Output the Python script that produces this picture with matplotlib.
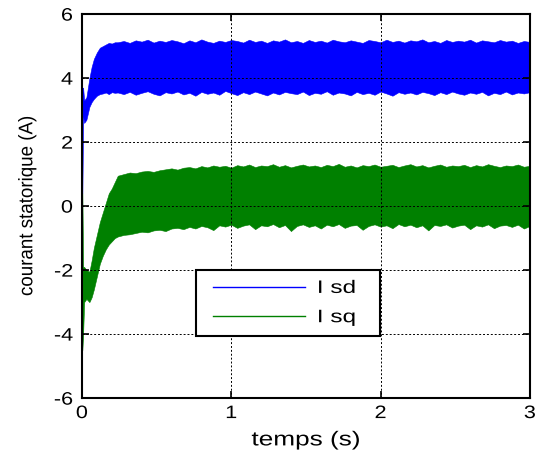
import numpy as np
import matplotlib
matplotlib.use('Agg')
import matplotlib.pyplot as plt
from matplotlib.patheffects import AbstractPathEffect
from matplotlib.transforms import Affine2D
from matplotlib.legend_handler import HandlerLine2D

plt.rcParams['font.family'] = ['Liberation Sans', 'DejaVu Sans']
plt.rcParams['axes.unicode_minus'] = False

# start-up transient (time in s), envelope of the noisy band
t_start = [0, 0.003, 0.008, 0.015, 0.03, 0.05, 0.065, 0.08, 0.1, 0.12, 0.14, 0.16, 0.18, 0.2, 0.22]
isd_hi_start = [0.4, 3.7, 3.7, 3.3, 3.4, 4.0, 4.35, 4.6, 4.8, 4.95, 5.0, 5.05, 5.1, 5.08, 5.12]
isd_lo_start = [0.4, 0.4, 2.8, 2.6, 2.7, 3.1, 3.25, 3.35, 3.45, 3.5, 3.52, 3.55, 3.5, 3.56, 3.54]
isq_hi_start = [0.4, 0.4, -1.9, -1.9, -2.0, -2.05, -1.7, -1.3, -0.9, -0.5, -0.2, 0.1, 0.4, 0.55, 0.75]
isq_lo_start = [0.4, -4.5, -4.0, -3.0, -2.9, -3.0, -2.85, -2.6, -2.2, -1.8, -1.55, -1.35, -1.2, -1.1, -1.0]

# steady part, one reading every 0.04 s from 0.24 s to 3 s
t_run = np.round(np.arange(0.24, 3.0001, 0.04), 2)
isd_hi_run = [5.12, 5.16, 5.10, 5.18, 5.14, 5.20, 5.11, 5.17, 5.13, 5.19,
              5.15, 5.09, 5.18, 5.12, 5.21, 5.14, 5.10, 5.17, 5.13, 5.19,
              5.16, 5.11, 5.20, 5.13, 5.17, 5.10, 5.18, 5.14, 5.21, 5.12,
              5.16, 5.10, 5.19, 5.13, 5.17, 5.11, 5.20, 5.15, 5.12, 5.18,
              5.14, 5.10, 5.19, 5.16, 5.12, 5.20, 5.13, 5.17, 5.11, 5.18,
              5.15, 5.21, 5.12, 5.16, 5.10, 5.19, 5.13, 5.17, 5.14, 5.20,
              5.11, 5.18, 5.15, 5.12, 5.19, 5.14, 5.17, 5.10, 5.16, 5.13]
isd_lo_run = [3.55, 3.50, 3.57, 3.48, 3.54, 3.59, 3.51, 3.46, 3.56, 3.52,
              3.58, 3.49, 3.54, 3.45, 3.57, 3.51, 3.55, 3.48, 3.60, 3.53,
              3.47, 3.56, 3.50, 3.58, 3.52, 3.46, 3.55, 3.49, 3.57, 3.53,
              3.50, 3.58, 3.47, 3.54, 3.51, 3.59, 3.48, 3.55, 3.52, 3.46,
              3.57, 3.50, 3.54, 3.48, 3.58, 3.52, 3.45, 3.56, 3.51, 3.55,
              3.49, 3.57, 3.53, 3.47, 3.56, 3.50, 3.58, 3.52, 3.48, 3.55,
              3.51, 3.57, 3.46, 3.54, 3.50, 3.58, 3.49, 3.55, 3.52, 3.56]
isq_hi_run = [0.95, 1.00, 1.05, 1.03, 1.08, 1.10, 1.07, 1.12, 1.15, 1.18,
              1.14, 1.20, 1.22, 1.18, 1.25, 1.21, 1.27, 1.23, 1.26, 1.20,
              1.28, 1.24, 1.30, 1.22, 1.27, 1.25, 1.31, 1.23, 1.28, 1.21,
              1.26, 1.30, 1.24, 1.27, 1.22, 1.29, 1.25, 1.32, 1.23, 1.27,
              1.21, 1.28, 1.25, 1.30, 1.23, 1.26, 1.29, 1.22, 1.27, 1.31,
              1.24, 1.28, 1.21, 1.26, 1.30, 1.23, 1.27, 1.25, 1.29, 1.22,
              1.28, 1.24, 1.31, 1.26, 1.22, 1.27, 1.25, 1.30, 1.23, 1.26]
isq_lo_run = [-0.95, -0.90, -0.88, -0.84, -0.80, -0.82, -0.76, -0.74, -0.78, -0.70,
              -0.68, -0.72, -0.65, -0.70, -0.62, -0.66, -0.75, -0.60, -0.64, -0.58,
              -0.68, -0.61, -0.57, -0.72, -0.60, -0.63, -0.56, -0.66, -0.59, -0.78,
              -0.62, -0.57, -0.65, -0.60, -0.70, -0.58, -0.63, -0.56, -0.68, -0.61,
              -0.59, -0.74, -0.62, -0.57, -0.64, -0.60, -0.69, -0.56, -0.63, -0.58,
              -0.66, -0.60, -0.76, -0.59, -0.62, -0.57, -0.67, -0.61, -0.58, -0.72,
              -0.60, -0.64, -0.57, -0.69, -0.61, -0.59, -0.65, -0.58, -0.70, -0.62]

t = np.concatenate([t_start, t_run])
isd_hi = np.concatenate([isd_hi_start, isd_hi_run])
isd_lo = np.concatenate([isd_lo_start, isd_lo_run])
isq_hi = np.concatenate([isq_hi_start, isq_hi_run])
isq_lo = np.concatenate([isq_lo_start, isq_lo_run])

blue = '#0000ff'
green = '#008000'


# the source picture is stretched sideways, text looks wide
class Widen(AbstractPathEffect):
    def __init__(self, sx=1.2, anchor=0.5):
        super().__init__()
        self.sx = sx
        self.anchor = anchor

    def draw_path(self, renderer, gc, tpath, affine, rgbFace=None):
        bb = tpath.get_extents(affine)
        p = bb.x0 + self.anchor * bb.width
        aff = affine + Affine2D().translate(-p, 0).scale(self.sx, 1).translate(p, 0)
        renderer.draw_path(gc, tpath, aff, rgbFace)


fig = plt.figure(figsize=(5.39, 4.55), dpi=100)
ax = fig.add_axes([0.152, 0.125, 0.831, 0.844])

ax.fill_between(t, isd_lo, isd_hi, color=blue, lw=0.4)
ax.fill_between(t, isq_lo, isq_hi, color=green, lw=0.4)
l1, = ax.plot([], [], color=blue, lw=1, label='I sd')
l2, = ax.plot([], [], color=green, lw=1, label='I sq')

ax.set_xlim(0, 3)
ax.set_ylim(-6, 6)
ax.set_xticks([0, 1, 2, 3])
ax.set_yticks([-6, -4, -2, 0, 2, 4, 6])
ax.grid(True, color='black', linestyle=(0, (2, 2)), lw=0.7)
ax.tick_params(direction='in', top=True, right=True, labelsize=13, width=1.2, length=5)
ax.tick_params(axis='x', pad=5)
ax.tick_params(axis='y', pad=6.5)
for s in ax.spines.values():
    s.set_linewidth(1.5)

for lb in ax.get_xticklabels():
    lb.set_path_effects([Widen(1.2, 0.5)])
for lb in ax.get_yticklabels():
    lb.set_path_effects([Widen(1.2, 1.0)])

xl = ax.set_xlabel('temps (s)', fontsize=14.5, labelpad=6)
xl.set_path_effects([Widen(1.3, 0.5)])
yl = ax.set_ylabel('courant statorique (A)', fontsize=13.5, labelpad=15)
yl.set_path_effects([Widen(1.05, 0.5)])

hmap = {l1: HandlerLine2D(xpad=0.39), l2: HandlerLine2D(xpad=0.39)}
leg = ax.legend(loc='lower left', bbox_to_anchor=(0.254, 0.161, 0.411, 0.167),
                mode='expand', fontsize=13, handlelength=5.48, handletextpad=0.7,
                fancybox=False, framealpha=1, borderaxespad=0, borderpad=0.56,
                labelspacing=0.68, handler_map=hmap)
leg.get_frame().set_edgecolor('black')
leg.get_frame().set_linewidth(1.5)
for txt in leg.get_texts():
    txt.set_path_effects([Widen(1.35, 0.0)])

fig.savefig('out.png', dpi=100)
